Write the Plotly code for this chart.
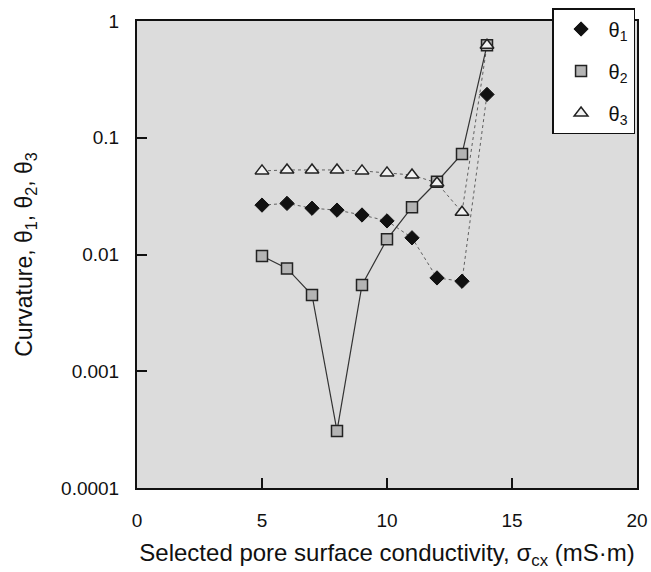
import plotly.graph_objects as go

x = [5, 6, 7, 8, 9, 10, 11, 12, 13, 14]
theta1 = [0.0265, 0.0274, 0.0249, 0.0240, 0.0218, 0.0194, 0.0139, 0.0063, 0.0059, 0.235]
theta2 = [0.0097, 0.0076, 0.0045, 0.000308, 0.00548, 0.0135, 0.0254, 0.042, 0.0726, 0.62]
theta3 = [0.052, 0.053, 0.053, 0.053, 0.052, 0.050, 0.048, 0.041, 0.023, 0.62]
names = ["θ<sub>1</sub>", "θ<sub>2</sub>", "θ<sub>3</sub>"]

fig = go.Figure()

# connecting lines (no legend)
fig.add_trace(go.Scatter(x=x, y=theta1, mode="lines", showlegend=False,
                         line=dict(color="#606060", width=1, dash="dot")))
fig.add_trace(go.Scatter(x=x, y=theta3, mode="lines", showlegend=False,
                         line=dict(color="#606060", width=1, dash="dot")))
fig.add_trace(go.Scatter(x=x, y=theta2, mode="lines", showlegend=False,
                         line=dict(color="#333333", width=1.2)))

# markers
fig.add_trace(go.Scatter(x=x, y=theta1, mode="markers", name=names[0], legendgroup="a",
                         marker=dict(symbol="diamond", size=11, color="#111111",
                                     line=dict(color="#111111", width=1))))
fig.add_trace(go.Scatter(x=x, y=theta2, mode="markers", name=names[1], legendgroup="b",
                         marker=dict(symbol="square", size=11, color="#b4b4b4",
                                     line=dict(color="#222222", width=1.5))))
fig.add_trace(go.Scatter(x=x, y=theta3, mode="markers", name=names[2], legendgroup="c",
                         marker=dict(symbol="triangle-up", size=12, color="#f2f2f2",
                                     line=dict(color="#222222", width=1.5))))

font_family = "Liberation Sans, Arial, sans-serif"

fig.update_layout(
    width=651, height=572,
    margin=dict(l=137, r=14, t=21, b=84, autoexpand=False),
    paper_bgcolor="white",
    plot_bgcolor="#dcdcdc",
    font=dict(family=font_family, size=19, color="#111111"),
    legend=dict(x=0.848, y=0.986, xref="container", yref="container",
                xanchor="left", yanchor="top",
                bgcolor="white", bordercolor="#111111", borderwidth=1.5,
                font=dict(size=20), tracegroupgap=13,
                itemwidth=45),
    xaxis=dict(range=[0, 20], tickvals=[0, 5, 10, 15, 20], automargin=False,
               ticks="inside", ticklen=10, tickcolor="#111111", tickwidth=1.5,
               showgrid=False, zeroline=False,
               showline=True, linecolor="#111111", linewidth=2, mirror=True,
               title=dict(text="Selected pore surface conductivity, σ<sub>cx</sub> (mS·m)",
                          font=dict(size=24), standoff=14),
               tickfont=dict(size=19), ticklabelstandoff=14),
    yaxis=dict(type="log", range=[-4, 0], automargin=False,
               tickvals=[0.0001, 0.001, 0.01, 0.1, 1],
               ticktext=["0.0001", "0.001", "0.01", "0.1", "1"],
               ticks="inside", ticklen=10, tickcolor="#111111", tickwidth=1.5,
               showgrid=False, zeroline=False,
               showline=True, linecolor="#111111", linewidth=2, mirror=True,
               title=dict(text="Curvature, θ<sub>1</sub>, θ<sub>2</sub>, θ<sub>3</sub>",
                          font=dict(size=23), standoff=22),
               tickfont=dict(size=19), ticklabelstandoff=12),
)

fig.write_html("out.html")
